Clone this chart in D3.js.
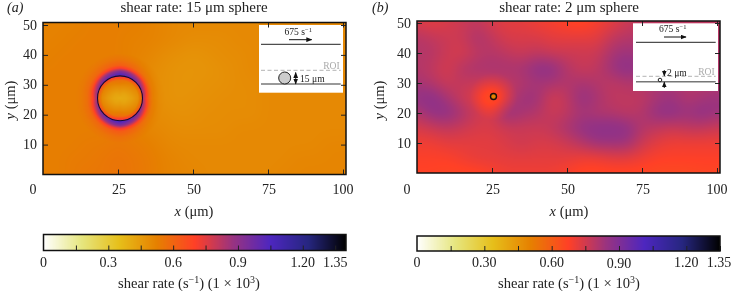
<!DOCTYPE html>
<html><head><meta charset="utf-8">
<script src="https://cdnjs.cloudflare.com/ajax/libs/d3/7.8.5/d3.min.js"></script>
<style>
html,body{margin:0;padding:0;background:#fff;overflow:hidden}
#wrap{position:relative;width:733px;height:291px;filter:blur(0.35px)}
canvas,svg{position:absolute;left:0;top:0}
text{font-family:"Liberation Serif",serif;fill:#222}
</style></head><body><div id="wrap"></div>
<script>
// ---------- data ----------
const xTicks = [25, 50, 75, 100];
const xTickLabels = ["25", "50", "75", "100"];
const yTicks = [10, 20, 30, 40, 50];
const gridX = d3.range(0, 101, 5);
const gridY = [50, 45, 40, 35, 30, 25, 20, 15, 10, 5, 0];
const fieldA = [
 [.52,.52,.52,.53,.53,.53,.53,.52,.51,.50,.50,.50,.50,.50,.50,.50,.50,.50,.50,.50,.50],
 [.52,.52,.53,.53,.53,.53,.52,.52,.51,.50,.49,.49,.49,.50,.50,.50,.50,.50,.50,.50,.50],
 [.52,.53,.53,.53,.53,.53,.52,.51,.49,.48,.47,.48,.49,.49,.50,.50,.50,.50,.50,.50,.50],
 [.53,.53,.53,.53,.53,.53,.52,.50,.48,.47,.47,.47,.48,.49,.50,.50,.50,.50,.50,.50,.50],
 [.53,.53,.53,.53,.53,.53,.52,.49,.48,.47,.47,.48,.48,.49,.49,.50,.50,.50,.50,.50,.50],
 [.53,.53,.53,.53,.53,.53,.52,.49,.48,.47,.48,.48,.49,.49,.49,.50,.50,.50,.50,.50,.50],
 [.53,.53,.53,.53,.53,.54,.52,.50,.49,.48,.48,.49,.49,.49,.49,.50,.50,.50,.50,.50,.50],
 [.53,.53,.53,.53,.53,.54,.53,.51,.50,.49,.49,.49,.49,.50,.50,.50,.50,.50,.50,.50,.50],
 [.53,.53,.53,.54,.54,.55,.54,.53,.51,.50,.50,.50,.50,.50,.50,.50,.50,.50,.50,.51,.51],
 [.53,.53,.54,.54,.55,.56,.55,.54,.52,.51,.50,.50,.50,.50,.50,.50,.50,.51,.51,.51,.51],
 [.53,.53,.54,.55,.55,.56,.55,.54,.52,.51,.51,.50,.50,.50,.50,.50,.51,.51,.51,.51,.51]];
const fieldB = [
 [.74,.72,.74,.76,.78,.74,.72,.72,.70,.69,.67,.66,.69,.72,.76,.78,.78,.78,.78,.78,.78],
 [.80,.78,.76,.76,.82,.78,.74,.74,.74,.72,.72,.72,.72,.78,.80,.80,.80,.80,.80,.80,.80],
 [.80,.80,.76,.74,.78,.80,.78,.76,.78,.76,.76,.76,.76,.82,.84,.82,.80,.80,.80,.80,.80],
 [.80,.78,.74,.80,.82,.82,.82,.82,.87,.87,.80,.76,.78,.84,.88,.84,.80,.80,.80,.80,.80],
 [.82,.80,.76,.78,.76,.76,.78,.80,.82,.82,.80,.82,.80,.78,.80,.80,.82,.82,.80,.80,.80],
 [.86,.88,.82,.76,.72,.68,.76,.84,.84,.74,.78,.86,.82,.78,.78,.78,.82,.84,.80,.82,.84],
 [.80,.86,.87,.82,.76,.74,.86,.82,.80,.76,.78,.82,.80,.80,.78,.80,.86,.87,.84,.87,.84],
 [.74,.76,.78,.76,.74,.74,.76,.76,.76,.78,.82,.86,.88,.88,.87,.80,.78,.76,.78,.78,.76],
 [.70,.70,.72,.72,.72,.72,.74,.76,.74,.74,.76,.80,.84,.84,.84,.76,.72,.70,.70,.70,.70],
 [.68,.68,.68,.70,.72,.72,.72,.72,.72,.72,.72,.70,.70,.72,.72,.70,.68,.68,.68,.68,.68],
 [.67,.67,.66,.66,.66,.68,.70,.70,.70,.70,.68,.66,.66,.66,.66,.66,.65,.65,.65,.66,.66]];
// change of shear rate around each sphere: radius (um) by angle from the flow direction
const haloRadiiA = [0, 2, 4, 6, 7.2, 7.8, 9, 10, 11, 13, 15];
const haloAngles = [0, 45, 90];
const haloA = [
 [-.12,-.12,-.12],[-.11,-.10,-.08],[-.08,-.05,-.03],[-.03,.00,.04],[.08,.14,.22],
 [.33,.44,.52],[.17,.30,.40],[.08,.14,.20],[.04,.06,.09],[.01,.02,.03],[0,0,0]];
const haloRadiiB = [0, .9, 1.1, 2, 3, 5, 8];
const haloB = [[-.24,-.24,-.24],[-.20,-.20,-.20],[-.05,-.05,-.05],[-.06,-.06,-.06],[-.05,-.05,-.05],[-.03,-.03,-.03],[0,0,0]];
const cmapStops = [0, .125, .25, .375, .5, .625, .75, .875, 1];
const cmapColors = ["#ffffff","#e6e680","#e6bf1a","#e68000","#ff4026","#993380","#4d26bf","#262680","#000000"];
const barTicks = [.15,.3,.45,.6,.75,.9,1.05,1.2,1.35];
const barLabelVals = [0,.3,.6,.9,1.2,1.35];
const barLabelsA = ["0","0.3","0.6","0.9","1.20","1.35"];
const barLabelsB = ["0","0.30","0.60","0.90","1.20","1.35"];
const panels = [
 {name:"(a)",title:"shear rate: 15 μm sphere",nameX:7,titleX:194,titleY:12,left:43,right:346,top:22.5,bottom:174.5,zeroY:174.5,fiftyY:25,
  field:fieldA,vmax:1.4,radii:haloRadiiA,halo:haloA,sx:25.67,sy:25.5,sr:7.5,barMax:1.4,barLeft:43.5,barRight:346,barTop:234.5,barBottom:250.5,
  barLabels:barLabelsA,barTitleX:189,xLabelX:194,yLabelX:15,inset:{l:259,r:343,t:25,b:92.7}},
 {name:"(b)",title:"shear rate: 2 μm sphere",nameX:372,titleX:569,titleY:12,left:417,right:720,top:21,bottom:173,zeroY:173,fiftyY:23,
  field:fieldB,vmax:1.35,radii:haloRadiiB,halo:haloB,sx:25.5,sy:25.5,sr:1,barMax:1.35,barLeft:417,barRight:720,barTop:236,barBottom:251,
  barLabels:barLabelsB,barTitleX:569,xLabelX:569,yLabelX:384,inset:{l:633,r:718,t:23.3,b:91}}];

const wrap = d3.select("#wrap");
const W = 733, H = 291;
const canvas = wrap.append("canvas").attr("width",W).attr("height",H);
const ctx = canvas.node().getContext("2d");
ctx.fillStyle="#fff";ctx.fillRect(0,0,W,H);
const svg = wrap.append("svg").attr("width",W).attr("height",H);
const defs = svg.append("defs");
const mk = defs.append("marker").attr("id","ah").attr("viewBox","0 0 10 8").attr("refX",9).attr("refY",4)
  .attr("markerWidth",6).attr("markerHeight",5).attr("orient","auto-start-reverse").attr("markerUnits","userSpaceOnUse");
mk.append("path").attr("d","M0,0L10,4L0,8Z").attr("fill","#111");

// smooth cubic B-spline sampling of the grid
const bw=t=>[(1-t)**3/6,(3*t*t*t-6*t*t+4)/6,(-3*t*t*t+3*t*t+3*t+1)/6,t*t*t/6];
function sample(field,x,y){
  const cx=Math.max(0,Math.min(19.999,x/5)), cy=Math.max(0,Math.min(9.999,(50-y)/5));
  const i=Math.floor(cx), j=Math.floor(cy), wu=bw(cx-i), wv=bw(cy-j);
  let s=0;
  for(let b=0;b<4;b++)for(let a=0;a<4;a++){
    const r=field[Math.max(0,Math.min(10,j+b-1))];
    s+=wu[a]*wv[b]*r[Math.max(0,Math.min(20,i+a-1))];
  }
  return s;
}
function haloAt(p,dx,dy){
  const r=Math.hypot(dx,dy), rad=p.radii; if(r>=rad[rad.length-1]) return 0;
  let k=d3.bisectRight(rad,r)-1; const t=(r-rad[k])/(rad[k+1]-rad[k]);
  const a=Math.atan2(Math.abs(dy),Math.abs(dx))*180/Math.PI;
  const m=a>=45?1:0, w=(a-haloAngles[m])/45;
  const at=q=>p.halo[q][m]*(1-w)+p.halo[q][m+1]*w;
  return at(k)*(1-t)+at(k+1)*t;
}

panels.forEach(p=>{
  const x=d3.scaleLinear().domain([0,100]).range([p.left,p.left+300]);
  const y=d3.scaleLinear().domain([0,50]).range([p.zeroY,p.fiftyY]);
  const color=d3.scaleLinear().domain(cmapStops.map(s=>s*p.vmax)).range(cmapColors).interpolate(d3.interpolateRgb).clamp(true);
  for(let px=Math.floor(p.left);px<Math.ceil(p.right);px++)for(let py=Math.floor(p.top);py<Math.ceil(p.bottom);py++){
    const ux=x.invert(px+.5), uy=y.invert(py+.5);
    ctx.fillStyle=color(sample(p.field,ux,uy)+haloAt(p,ux-p.sx,uy-p.sy));
    ctx.fillRect(px,py,1,1);
  }
  const g=svg.append("g");
  const ins=p.inset;
  g.append("rect").attr("x",ins.l).attr("y",ins.t).attr("width",ins.r-ins.l).attr("height",ins.b-ins.t).attr("fill","#fff");
  const rx=Math.abs(x(p.sr)-x(0)), ry=Math.abs(y(p.sr)-y(0));
  g.append("ellipse").attr("cx",x(p.sx)).attr("cy",y(p.sy)).attr("rx",rx).attr("ry",ry)
    .attr("fill","none").attr("stroke",p.sr<2?"#1a0f0a":"#140a35").attr("stroke-width",p.sr<2?1.4:1.1);
  const mkAxis=(axis,tx,ty)=>{
    const a=g.append("g").attr("transform",`translate(${tx},${ty})`).call(axis.tickSize(-5).tickFormat(""));
    a.select(".domain").remove(); a.selectAll("line").attr("stroke","#222").attr("stroke-width",1);
  };
  mkAxis(d3.axisBottom(x).tickValues(xTicks),0,p.bottom);
  mkAxis(d3.axisTop(x).tickValues(xTicks),0,p.top);
  mkAxis(d3.axisLeft(y).tickValues(yTicks),p.left,0);
  mkAxis(d3.axisRight(y).tickValues(yTicks),p.right,0);
  g.append("rect").attr("x",p.left).attr("y",p.top).attr("width",p.right-p.left).attr("height",p.bottom-p.top)
    .attr("fill","none").attr("stroke","#111").attr("stroke-width",1.5);
  const fs=14;
  const txt=(tx,ty,s,anc="middle",size=fs)=>g.append("text").attr("x",tx).attr("y",ty).attr("text-anchor",anc).attr("font-size",size).text(s);
  txt(p.left-10,194,"0");
  xTicks.forEach((v,i)=>txt(x(v)+(i<3?1:0),194,xTickLabels[i]));
  yTicks.forEach(v=>txt(p.left-6,y(v)+4.5,String(v),"end"));
  const xl=txt(p.xLabelX,216,"","middle",14.5);
  xl.append("tspan").attr("font-style","italic").text("x");xl.append("tspan").text(" (μm)");
  const yl=g.append("text").attr("transform",`translate(${p.yLabelX},100) rotate(-90)`).attr("text-anchor","middle").attr("font-size",14.5);
  yl.append("tspan").attr("font-style","italic").text("y");yl.append("tspan").text(" (μm)");
  txt(p.titleX,p.titleY,p.title,"middle",15);
  txt(p.nameX,p.titleY,p.name,"start",14).attr("font-style","italic");
  const bs=d3.scaleLinear().domain([0,p.barMax]).range([p.barLeft,p.barRight]);
  for(let px=Math.floor(p.barLeft);px<p.barRight;px++){
    ctx.fillStyle=color(bs.invert(px+.5));
    ctx.fillRect(px,p.barTop,1,p.barBottom-p.barTop);
  }
  const ba=g.append("g").attr("transform",`translate(0,${p.barBottom})`).call(d3.axisBottom(bs).tickValues(barTicks).tickSize(-5).tickFormat(""));
  ba.select(".domain").remove(); ba.selectAll("line").attr("stroke","#222").attr("stroke-width",1);
  g.append("rect").attr("x",p.barLeft).attr("y",p.barTop).attr("width",p.barRight-p.barLeft).attr("height",p.barBottom-p.barTop)
    .attr("fill","none").attr("stroke","#111").attr("stroke-width",1.5);
  barLabelVals.forEach((v,i)=>txt(bs(v)+(v===1.35&&p.name==="(b)"?-1:0),(p.name==="(b)"&&v===.9)?268:267,p.barLabels[i],"middle",fs));
  const bl=txt(p.barTitleX,287.5,"","middle",14.6);
  bl.append("tspan").text("shear rate (s");
  bl.append("tspan").attr("dy",-5).attr("font-size",10).text("−1");
  bl.append("tspan").attr("dy",5).text(") (1 × 10");
  bl.append("tspan").attr("dy",-5).attr("font-size",10).text("3");
  bl.append("tspan").attr("dy",5).text(")");
  p.g=g;
});

function sketch(g,o){
  const ln=(x1,y1,x2,y2,c,w,dash)=>g.append("line").attr("x1",x1).attr("y1",y1).attr("x2",x2).attr("y2",y2).attr("stroke",c).attr("stroke-width",w).attr("stroke-dasharray",dash||null);
  const t=(x,y,s,c="#222",a="start")=>g.append("text").attr("x",x).attr("y",y).attr("font-size",9.6).attr("text-anchor",a).style("fill",c).text(s);
  ln(o.l,o.top,o.r,o.top,"#222",1);
  ln(o.l,o.roi,o.r,o.roi,"#aaa",.9,"4 2.5");
  ln(o.l,o.wall,o.r,o.wall,"#777",1.5);
  ln(o.ax1,o.ay,o.ax2,o.ay,"#111",1).attr("marker-end","url(#ah)");
  const s=t(o.sx,o.sy,"675 s");
  s.append("tspan").attr("dy",-3).attr("font-size",6.5).text("−1");
  t(o.r-1,o.roiY,"ROI","#aaa","end");
  g.append("circle").attr("cx",o.cx).attr("cy",o.cy).attr("r",o.cr).attr("fill",o.cfill).attr("stroke","#222").attr("stroke-width",1);
  o.arrows.forEach(a=>ln(a[0],a[1],a[2],a[3],"#111",.9).attr("marker-end","url(#ah)"));
  t(o.lx,o.ly,o.label);
}
sketch(panels[0].g,{l:261,r:340.7,top:44.3,roi:70.3,wall:84,ax1:289,ax2:311.7,ay:39.7,sx:284.5,sy:35,roiY:68.5,cx:284.7,cy:78,cr:6,cfill:"#ccc",
  arrows:[[295.7,78,295.7,72.5],[295.7,78,295.7,84]],lx:300,ly:81.5,label:"15 μm"});
sketch(panels[1].g,{l:636,r:715.7,top:42.3,roi:76.3,wall:81.7,ax1:664,ax2:686,ay:37,sx:659,sy:32.3,roiY:75,cx:660,cy:80,cr:1.8,cfill:"#fff",
  arrows:[[664.3,70,664.3,76],[664.3,88,664.3,82]],lx:667,ly:76,label:"2 μm"});
</script></body></html>
